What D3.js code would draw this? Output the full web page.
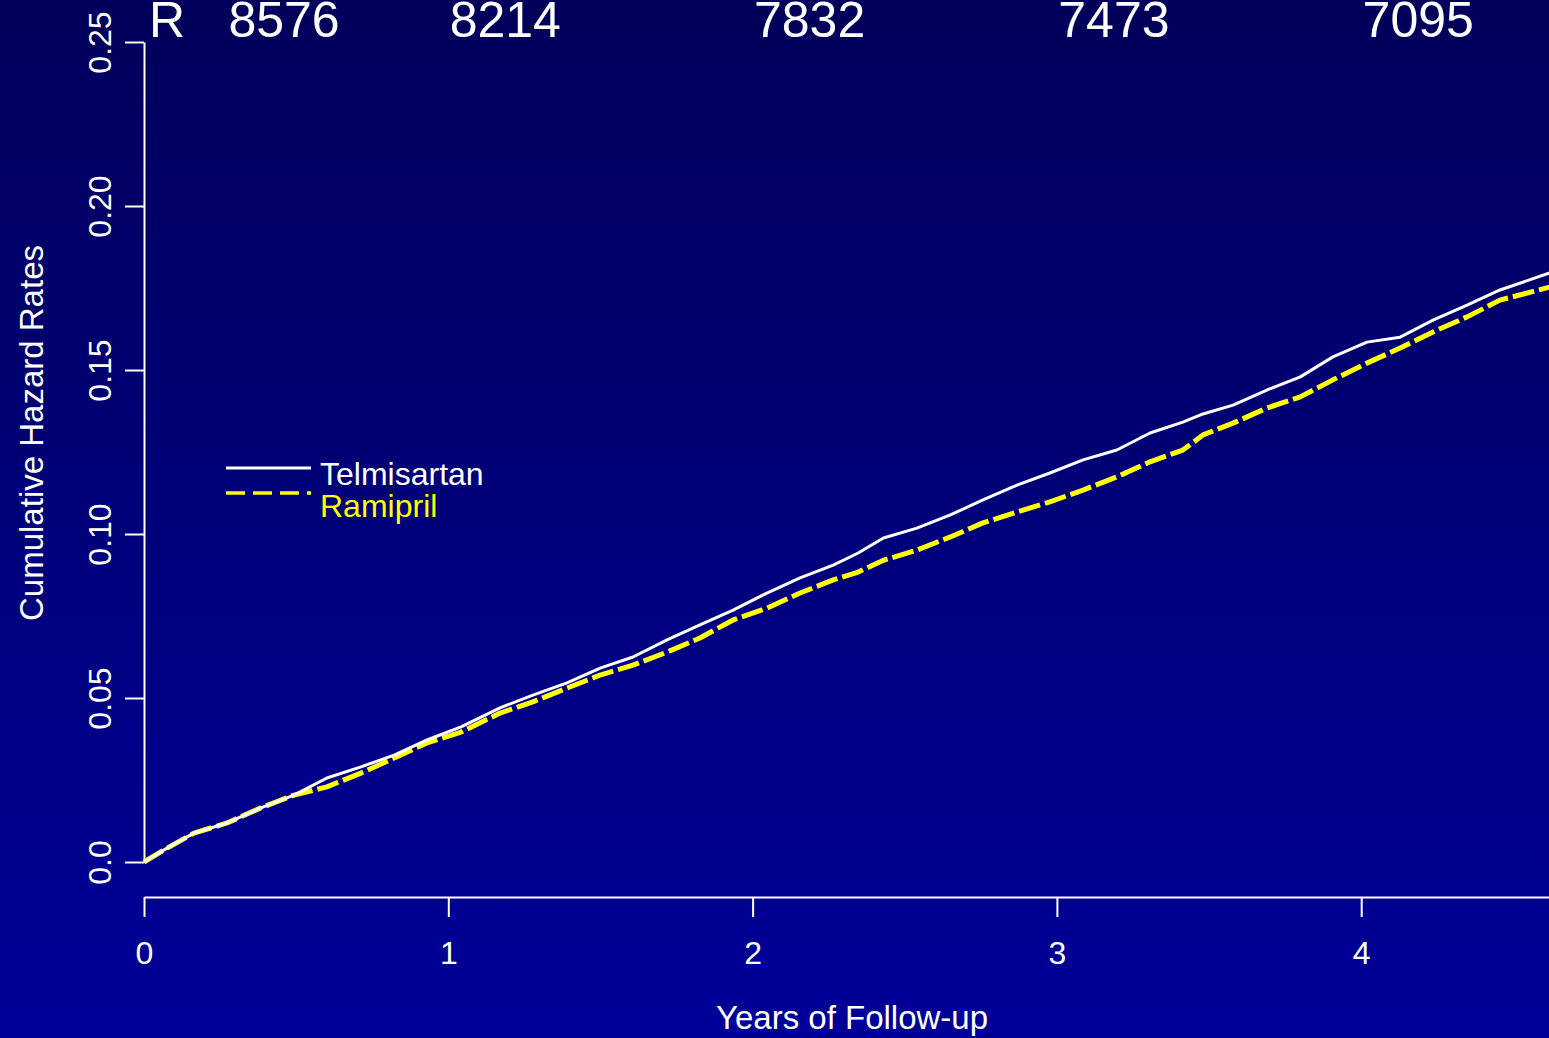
<!DOCTYPE html>
<html>
<head>
<meta charset="utf-8">
<script src="https://cdn.jsdelivr.net/npm/d3@7"></script>
<style>
  html, body { margin: 0; padding: 0; overflow: hidden; }
  svg { display: block; font-family: "Liberation Sans", Arial, sans-serif; }
</style>
</head>
<body>
<svg id="chart"></svg>
<script>
// [year, cumulative hazard]
const telmisartan = [
  [0, 0], [0.066, 0.0037], [0.164, 0.0088], [0.273, 0.0119], [0.384, 0.0165],
  [0.493, 0.0204], [0.601, 0.0256], [0.713, 0.029], [0.822, 0.0326], [0.93, 0.0372],
  [1.042, 0.0412], [1.17, 0.047], [1.278, 0.0509], [1.39, 0.0546], [1.499, 0.0591],
  [1.607, 0.0625], [1.719, 0.0677], [1.827, 0.0723], [1.936, 0.0768], [2.047, 0.082],
  [2.156, 0.0866], [2.265, 0.0905], [2.347, 0.0942], [2.43, 0.0988], [2.54, 0.1018],
  [2.65, 0.1058], [2.757, 0.1104], [2.869, 0.1149], [2.977, 0.1186], [3.086, 0.1226],
  [3.197, 0.1256], [3.306, 0.1308], [3.414, 0.1341], [3.48, 0.1366], [3.579, 0.1393],
  [3.69, 0.1439], [3.8, 0.1479], [3.907, 0.154], [4.019, 0.1585], [4.128, 0.160],
  [4.236, 0.1652], [4.348, 0.1698], [4.456, 0.1744], [4.62, 0.1796]
];
const ramipril = [
  [0, 0], [0.066, 0.0037], [0.164, 0.0088], [0.273, 0.0119], [0.384, 0.0165],
  [0.493, 0.0204], [0.601, 0.0229], [0.713, 0.0271], [0.822, 0.0317], [0.93, 0.0363],
  [1.042, 0.0396], [1.17, 0.0454], [1.278, 0.0488], [1.39, 0.053], [1.499, 0.057],
  [1.607, 0.060], [1.719, 0.064], [1.827, 0.0683], [1.936, 0.0738], [2.047, 0.0774],
  [2.156, 0.082], [2.265, 0.086], [2.347, 0.0884], [2.43, 0.092], [2.54, 0.0951],
  [2.65, 0.0991], [2.757, 0.1034], [2.869, 0.1067], [2.977, 0.1098], [3.086, 0.1134],
  [3.197, 0.1174], [3.306, 0.122], [3.414, 0.1256], [3.48, 0.1302], [3.579, 0.1338],
  [3.69, 0.1384], [3.8, 0.1418], [3.907, 0.147], [4.019, 0.1521], [4.128, 0.1567],
  [4.236, 0.1616], [4.348, 0.1662], [4.456, 0.1713], [4.62, 0.1753]
];
const xTicks = [0, 1, 2, 3, 4];
const yTicks = [0, 0.05, 0.10, 0.15, 0.20, 0.25];
const yTickLabels = ["0.0", "0.05", "0.10", "0.15", "0.20", "0.25"];
const atRiskYears = [0, 1, 2, 3, 4];
const atRiskCounts = ["8576", "8214", "7832", "7473", "7095"];
const atRiskLabel = "R";
const seriesNames = ["Telmisartan", "Ramipril"];

const W = 1549, H = 1038;
const svg = d3.select("#chart").attr("width", W).attr("height", H);

// background gradient
const grad = svg.append("defs").append("linearGradient")
  .attr("id", "bg").attr("x1", 0).attr("y1", 0).attr("x2", 0).attr("y2", 1);
grad.append("stop").attr("offset", "0%").attr("stop-color", "#00005a");
grad.append("stop").attr("offset", "100%").attr("stop-color", "#000099");
svg.append("rect").attr("width", W).attr("height", H).attr("fill", "url(#bg)");

// scales (plot runs past the right edge of the picture)
const x = d3.scaleLinear().domain([0, 5]).range([144, 144 + 5 * 304.3]);
const y = d3.scaleLinear().domain([0, 0.25]).range([862, 42]);

const white = "#ffffff", yellow = "#ffff00";

// x axis (R style, offset below the plot)
const xAxis = svg.append("g")
  .attr("transform", "translate(0,897)")
  .call(d3.axisBottom(x).tickValues(xTicks).tickFormat(d3.format("d"))
    .tickSize(20).tickSizeOuter(0));
xAxis.select(".domain").attr("stroke", white).attr("stroke-width", 2);
xAxis.selectAll(".tick line").attr("stroke", white).attr("stroke-width", 2);
xAxis.selectAll(".tick text")
  .attr("fill", white).attr("font-size", 32).attr("font-family", "Liberation Sans, Arial")
  .attr("y", 67).attr("dy", 0);

// y axis, labels rotated
const yAxis = svg.append("g")
  .attr("transform", "translate(144,0)")
  .call(d3.axisLeft(y).tickValues(yTicks).tickFormat((d, i) => yTickLabels[i])
    .tickSize(19).tickSizeOuter(0));
yAxis.select(".domain").attr("stroke", white).attr("stroke-width", 2);
yAxis.selectAll(".tick line").attr("stroke", white).attr("stroke-width", 2);
yAxis.selectAll(".tick text")
  .attr("fill", white).attr("font-size", 32).attr("font-family", "Liberation Sans, Arial")
  .attr("x", 0).attr("dy", 0)
  .attr("text-anchor", "middle")
  .attr("transform", "translate(-33,0) rotate(-90)");

// axis titles
svg.append("text")
  .attr("x", 852).attr("y", 1029)
  .attr("text-anchor", "middle").attr("fill", white).attr("font-size", 33)
  .text("Years of Follow-up");
svg.append("text")
  .attr("transform", "translate(43,433) rotate(-90)")
  .attr("text-anchor", "middle").attr("fill", white).attr("font-size", 33)
  .text("Cumulative Hazard Rates");

// curves
const line = d3.line().x(d => x(d[0])).y(d => y(d[1]));
svg.append("path").datum(ramipril)
  .attr("d", line).attr("fill", "none")
  .attr("stroke", yellow).attr("stroke-width", 5)
  .attr("stroke-dasharray", "22,5").attr("stroke-linejoin", "round");
svg.append("path").datum(telmisartan)
  .attr("d", line).attr("fill", "none")
  .attr("stroke", white).attr("stroke-width", 3).attr("stroke-linejoin", "round");

// legend
const legend = svg.append("g");
legend.append("line").attr("x1", 226).attr("x2", 311).attr("y1", 468).attr("y2", 468)
  .attr("stroke", white).attr("stroke-width", 3);
legend.append("line").attr("x1", 226).attr("x2", 311).attr("y1", 493).attr("y2", 493)
  .attr("stroke", yellow).attr("stroke-width", 3.5).attr("stroke-dasharray", "19,8");
legend.append("text").attr("x", 320).attr("y", 485).attr("fill", white)
  .attr("font-size", 32).text(seriesNames[0]);
legend.append("text").attr("x", 320).attr("y", 517).attr("fill", yellow)
  .attr("font-size", 32).text(seriesNames[1]);

// numbers at risk across the top
svg.append("text").attr("x", 167).attr("y", 37).attr("text-anchor", "middle")
  .attr("fill", white).attr("font-size", 50).text(atRiskLabel);
svg.append("g").selectAll("text")
  .data(atRiskCounts)
  .join("text")
  // first count sits right of the "R" label, the rest just right of their year
  .attr("x", (d, i) => i === 0 ? x(atRiskYears[i]) + 140 : x(atRiskYears[i]) + 57)
  .attr("y", 37)
  .attr("text-anchor", "middle")
  .attr("fill", white).attr("font-size", 50)
  .text(d => d);
</script>
</body>
</html>
